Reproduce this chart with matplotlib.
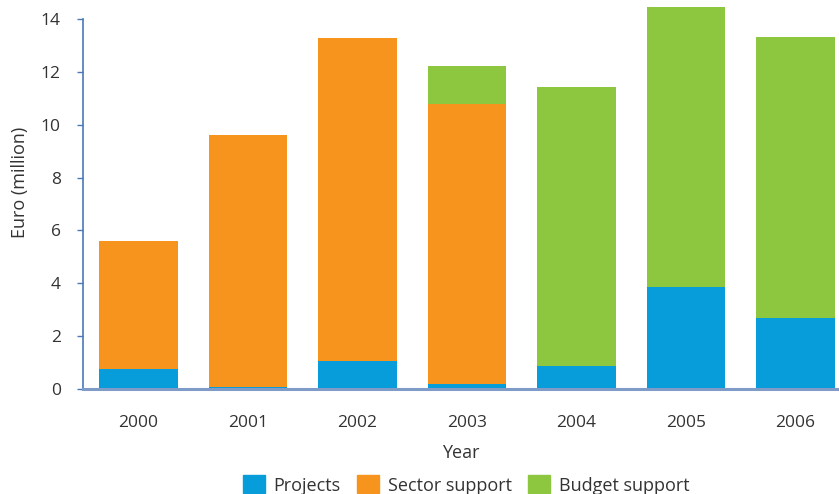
import matplotlib
matplotlib.use("Agg")
import matplotlib.pyplot as plt
import numpy as np
from matplotlib.patches import Patch

years = ["2000", "2001", "2002", "2003", "2004", "2005", "2006"]
projects = [0.76, 0.08, 1.06, 0.20, 0.87, 3.86, 2.69]
sector_support = [4.84, 9.53, 12.22, 10.58, 0.0, 0.0, 0.0]
budget_support = [0.0, 0.0, 0.0, 1.44, 10.56, 10.59, 10.63]
y_ticks = [0, 2, 4, 6, 8, 10, 12, 14]

c_proj = "#079dda"
c_sect = "#f7941e"
c_budg = "#8dc63f"
txt = "#333333"
spine_c = "#7f9cc8"

plt.rcParams["font.family"] = ["Open Sans", "DejaVu Sans"]

fig = plt.figure(figsize=(8.39, 4.94), dpi=100)
ax = fig.add_axes([83 / 839, 1 - 389 / 494, (839 - 83) / 839, 389 / 494])

x = np.arange(len(years))
w = 0.72
p = np.array(projects)
s = np.array(sector_support)
b = np.array(budget_support)
ax.bar(x, p, w, color=c_proj, linewidth=0)
ax.bar(x, s, w, bottom=p, color=c_sect, linewidth=0)
ax.bar(x, b, w, bottom=p + s, color=c_budg, linewidth=0)

ax.set_xlim(-0.507, 6.397)
ax.set_ylim(0, 14.72)
ax.set_yticks(y_ticks)
ax.set_xticks(x)
ax.set_xticklabels(years)

for side in ("top", "right"):
    ax.spines[side].set_visible(False)
ax.spines["left"].set_bounds(0, 14)
ax.spines["left"].set_color("#4a78b8")
ax.spines["left"].set_linewidth(1.2)
ax.spines["bottom"].set_color(spine_c)
ax.spines["bottom"].set_linewidth(2.2)

ax.tick_params(axis="y", length=4, width=1, color="#4a78b8", labelsize=12.5,
               labelcolor=txt, pad=12)
ax.tick_params(axis="x", length=0, labelsize=12.5, labelcolor=txt, pad=19)

ax.set_xlabel("Year", fontsize=13, color=txt, labelpad=9)
ax.set_ylabel("Euro (million)", fontsize=13, color=txt)
ax.yaxis.set_label_coords(-0.072, 0.53)

handles = [Patch(color=c_proj, label="Projects"),
           Patch(color=c_sect, label="Sector support"),
           Patch(color=c_budg, label="Budget support")]
fig.legend(handles=handles, loc="lower center", ncol=3, frameon=False,
           bbox_to_anchor=(466 / 839, -0.034), fontsize=13, labelcolor=txt,
           handlelength=1.25, handleheight=1.15, handletextpad=0.45,
           columnspacing=0.9)

fig.savefig("out.png", dpi=100)
